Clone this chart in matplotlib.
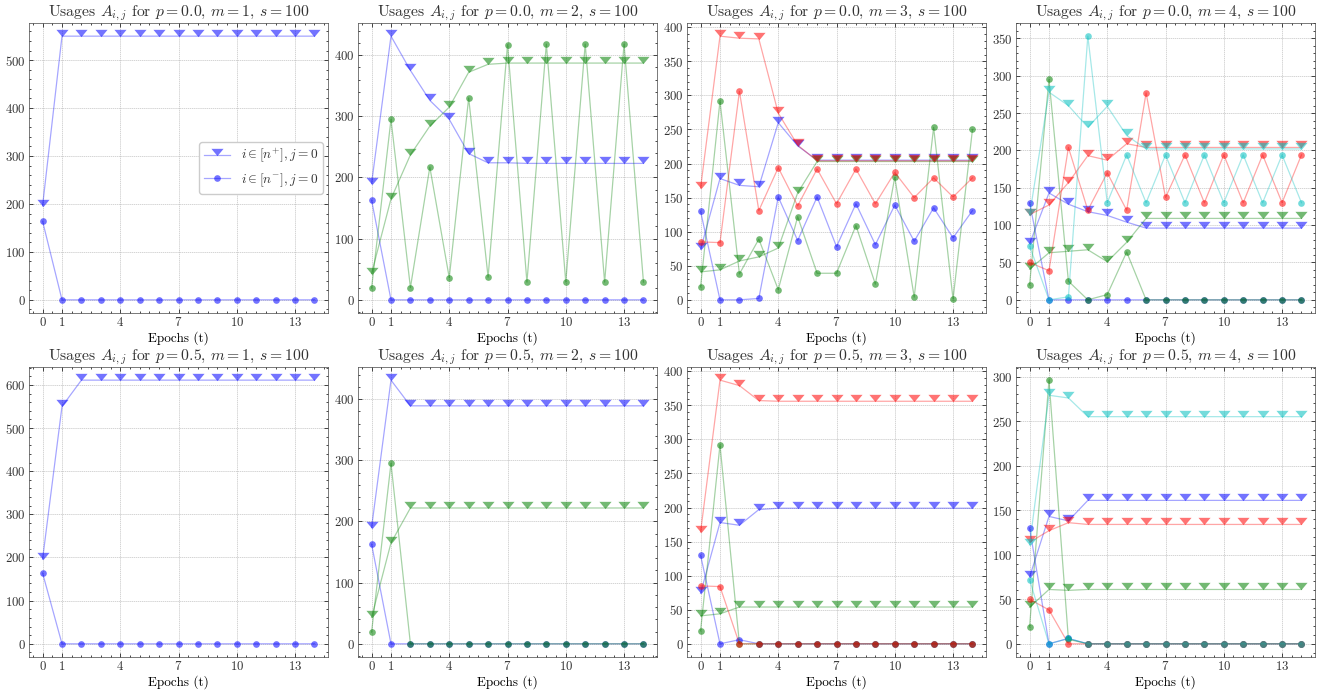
import matplotlib
matplotlib.use("Agg")
import matplotlib.pyplot as plt
from matplotlib.path import Path
from matplotlib.ticker import AutoMinorLocator, FixedLocator, MultipleLocator

epochs = list(range(15))
xtick_vals = [0, 1, 4, 7, 10, 13]

# ---- p = 0.0, m = 1 ----
p00_m1_up_b = [196, 550, 550, 550, 550, 550, 550, 550, 550, 550, 550, 550, 550, 550, 550]
p00_m1_dn_b = [164, 0, 0, 0, 0, 0, 0, 0, 0, 0, 0, 0, 0, 0, 0]
# ---- p = 0.0, m = 2 ----
p00_m2_up_b = [190, 431, 375, 326, 295, 239, 224, 224, 223, 223, 223, 223, 223, 223, 223]
p00_m2_up_g = [43, 165, 237, 284, 315, 372, 385, 387, 387, 387, 387, 387, 387, 387, 387]
p00_m2_dn_b = [163, 0, 0, 0, 0, 0, 0, 0, 0, 0, 0, 0, 0, 0, 0]
p00_m2_dn_g = [19, 295, 20, 217, 36, 330, 37, 417, 29, 418, 29, 418, 29, 418, 29]
# ---- p = 0.0, m = 3 ----
p00_m3_up_b = [74, 178, 168, 166, 260, 226, 205, 205, 205, 205, 205, 205, 205, 205, 205]
p00_m3_up_g = [41, 44, 57, 63, 76, 157, 203, 203, 203, 203, 203, 203, 203, 203, 203]
p00_m3_up_r = [164, 387, 384, 383, 274, 227, 204, 204, 204, 204, 204, 204, 204, 204, 204]
p00_m3_dn_b = [130, 0, 0, 2, 151, 87, 151, 78, 141, 81, 139, 86, 135, 91, 131]
p00_m3_dn_g = [19, 292, 38, 89, 15, 122, 39, 39, 109, 23, 180, 4, 253, 1, 250]
p00_m3_dn_r = [85, 84, 306, 131, 194, 138, 192, 141, 192, 141, 187, 150, 179, 151, 179]
# ---- p = 0.0, m = 4 ----
p00_m4_up_b = [75, 143, 128, 118, 113, 104, 96, 96, 96, 96, 96, 96, 96, 96, 96]
p00_m4_up_g = [41, 63, 65, 67, 51, 77, 109, 109, 109, 109, 109, 109, 109, 109, 109]
p00_m4_up_r = [114, 127, 157, 193, 187, 209, 204, 204, 204, 204, 204, 204, 204, 204, 204]
p00_m4_up_c = [113, 278, 260, 231, 259, 220, 202, 202, 202, 202, 202, 202, 202, 202, 202]
p00_m4_dn_b = [130, 0, 0, 0, 0, 0, 0, 0, 0, 0, 0, 0, 0, 0, 0]
p00_m4_dn_g = [20, 295, 25, 0, 7, 64, 0, 0, 0, 0, 0, 0, 0, 0, 0]
p00_m4_dn_r = [50, 39, 204, 120, 170, 120, 277, 137, 194, 130, 194, 130, 194, 130, 194]
p00_m4_dn_c = [72, 0, 4, 353, 130, 194, 130, 194, 130, 194, 130, 194, 130, 194, 130]
# ---- p = 0.5, m = 1 ----
p05_m1_up_b = [196, 550, 611, 611, 611, 611, 611, 611, 611, 611, 611, 611, 611, 611, 611]
p05_m1_dn_b = [164, 0, 0, 0, 0, 0, 0, 0, 0, 0, 0, 0, 0, 0, 0]
# ---- p = 0.5, m = 2 ----
p05_m2_up_b = [190, 431, 389, 389, 389, 389, 389, 389, 389, 389, 389, 389, 389, 389, 389]
p05_m2_up_g = [43, 165, 222, 222, 222, 222, 222, 222, 222, 222, 222, 222, 222, 222, 222]
p05_m2_dn_b = [163, 0, 0, 0, 0, 0, 0, 0, 0, 0, 0, 0, 0, 0, 0]
p05_m2_dn_g = [19, 295, 0, 0, 0, 0, 0, 0, 0, 0, 0, 0, 0, 0, 0]
# ---- p = 0.5, m = 3 ----
p05_m3_up_b = [74, 178, 174, 197, 199, 199, 199, 199, 199, 199, 199, 199, 199, 199, 199]
p05_m3_up_g = [41, 44, 54, 54, 54, 54, 54, 54, 54, 54, 54, 54, 54, 54, 54]
p05_m3_up_r = [164, 387, 379, 357, 356, 356, 356, 356, 356, 356, 356, 356, 356, 356, 356]
p05_m3_dn_b = [130, 0, 6, 0, 0, 0, 0, 0, 0, 0, 0, 0, 0, 0, 0]
p05_m3_dn_g = [19, 292, 0, 0, 0, 0, 0, 0, 0, 0, 0, 0, 0, 0, 0]
p05_m3_dn_r = [85, 84, 0, 0, 0, 0, 0, 0, 0, 0, 0, 0, 0, 0, 0]
# ---- p = 0.5, m = 4 ----
p05_m4_up_b = [75, 143, 138, 161, 161, 161, 161, 161, 161, 161, 161, 161, 161, 161, 161]
p05_m4_up_g = [41, 61, 60, 61, 61, 61, 61, 61, 61, 61, 61, 61, 61, 61, 61]
p05_m4_up_r = [114, 127, 136, 134, 134, 134, 134, 134, 134, 134, 134, 134, 134, 134, 134]
p05_m4_up_c = [111, 279, 276, 255, 255, 255, 255, 255, 255, 255, 255, 255, 255, 255, 255]
p05_m4_dn_b = [130, 0, 6, 0, 0, 0, 0, 0, 0, 0, 0, 0, 0, 0, 0]
p05_m4_dn_g = [19, 296, 5, 0, 0, 0, 0, 0, 0, 0, 0, 0, 0, 0, 0]
p05_m4_dn_r = [50, 38, 0, 0, 0, 0, 0, 0, 0, 0, 0, 0, 0, 0, 0]
p05_m4_dn_c = [72, 0, 6, 0, 0, 0, 0, 0, 0, 0, 0, 0, 0, 0, 0]

p_values = ["0.0", "0.5"]
m_values = [1, 2, 3, 4]
s_value = 100
color_list = [(0.0, 0.0, 1.0), (0.0, 0.5, 0.0), (1.0, 0.0, 0.0), (0.0, 0.75, 0.75)]

panels = {
    ("0.0", 1): ([p00_m1_up_b], [p00_m1_dn_b]),
    ("0.0", 2): ([p00_m2_up_b, p00_m2_up_g], [p00_m2_dn_b, p00_m2_dn_g]),
    ("0.0", 3): ([p00_m3_up_b, p00_m3_up_g, p00_m3_up_r], [p00_m3_dn_b, p00_m3_dn_g, p00_m3_dn_r]),
    ("0.0", 4): ([p00_m4_up_b, p00_m4_up_g, p00_m4_up_r, p00_m4_up_c],
                 [p00_m4_dn_b, p00_m4_dn_g, p00_m4_dn_r, p00_m4_dn_c]),
    ("0.5", 1): ([p05_m1_up_b], [p05_m1_dn_b]),
    ("0.5", 2): ([p05_m2_up_b, p05_m2_up_g], [p05_m2_dn_b, p05_m2_dn_g]),
    ("0.5", 3): ([p05_m3_up_b, p05_m3_up_g, p05_m3_up_r], [p05_m3_dn_b, p05_m3_dn_g, p05_m3_dn_r]),
    ("0.5", 4): ([p05_m4_up_b, p05_m4_up_g, p05_m4_up_r, p05_m4_up_c],
                 [p05_m4_dn_b, p05_m4_dn_g, p05_m4_dn_r, p05_m4_dn_c]),
}

plt.rcParams.update({
    "font.family": "serif",
    "font.serif": ["cmr10"],
    "mathtext.fontset": "cm",
    "axes.formatter.use_mathtext": True,
    "axes.unicode_minus": False,
    "xtick.direction": "in",
    "ytick.direction": "in",
    "xtick.top": True,
    "ytick.right": True,
    "xtick.major.size": 3,
    "ytick.major.size": 3,
    "xtick.minor.size": 1.5,
    "ytick.minor.size": 1.5,
    "xtick.major.width": 0.5,
    "ytick.major.width": 0.5,
    "xtick.minor.width": 0.5,
    "ytick.minor.width": 0.5,
    "xtick.major.pad": 2.5,
    "ytick.major.pad": 2.5,
    "axes.linewidth": 0.5,
    "axes.edgecolor": "#444444",
    "text.color": "#333333",
    "xtick.labelcolor": "#333333",
    "ytick.labelcolor": "#333333",
})

# downward triangle whose tip sits on the data point
tri_marker = Path([(-1.0, 1.1), (1.0, 1.1), (0.0, -0.1), (-1.0, 1.1)],
                  [Path.MOVETO, Path.LINETO, Path.LINETO, Path.CLOSEPOLY])

fig, axes = plt.subplots(2, 4, figsize=(13.23, 6.92), dpi=100)
fig.subplots_adjust(left=0.0219, right=0.9940, top=0.9668, bottom=0.0506,
                    wspace=0.10, hspace=0.186)

for r, p in enumerate(p_values):
    for c, m in enumerate(m_values):
        ax = axes[r, c]
        ups, dns = panels[(p, m)]
        for j in range(m):
            col = color_list[j]
            ax.plot(epochs, ups[j], color=col + (0.35,), lw=0.9,
                    marker=tri_marker, ms=9.6, mfc=col + (0.55,), mec=col + (0.0,), mew=0,
                    label=r"$i \in [n^{+}], j = %d$" % j)
            ax.plot(epochs, dns[j], color=col + (0.35,), lw=0.9,
                    marker="o", ms=4.8, mfc=col + (0.55,), mec=col + (0.0,), mew=0,
                    label=r"$i \in [n^{-}], j = %d$" % j)
        ax.set_title(r"Usages $A_{i,j}$ for $p = %s$, $m = %d$, $s = %d$" % (p, m, s_value),
                     fontsize=11.3, pad=2)
        ax.set_xlabel("Epochs (t)", fontsize=9.5, labelpad=1)
        ax.xaxis.set_major_locator(FixedLocator(xtick_vals))
        ax.xaxis.set_minor_locator(MultipleLocator(0.5))
        ax.yaxis.set_minor_locator(AutoMinorLocator())
        ax.tick_params(labelsize=9.3)
        ax.grid(True, which="major", color="#aaaaaa", linestyle=(0, (2, 1)), linewidth=0.5, alpha=0.7)
        if r == 0 and c == 0:
            ax.legend(loc="center right", fontsize=9.6, frameon=True, fancybox=True,
                      edgecolor="#cccccc", framealpha=1.0, numpoints=1, handlelength=2.0,
                      borderaxespad=0.4, borderpad=0.35, labelspacing=0.45)

fig.savefig("out.png", dpi=100)
